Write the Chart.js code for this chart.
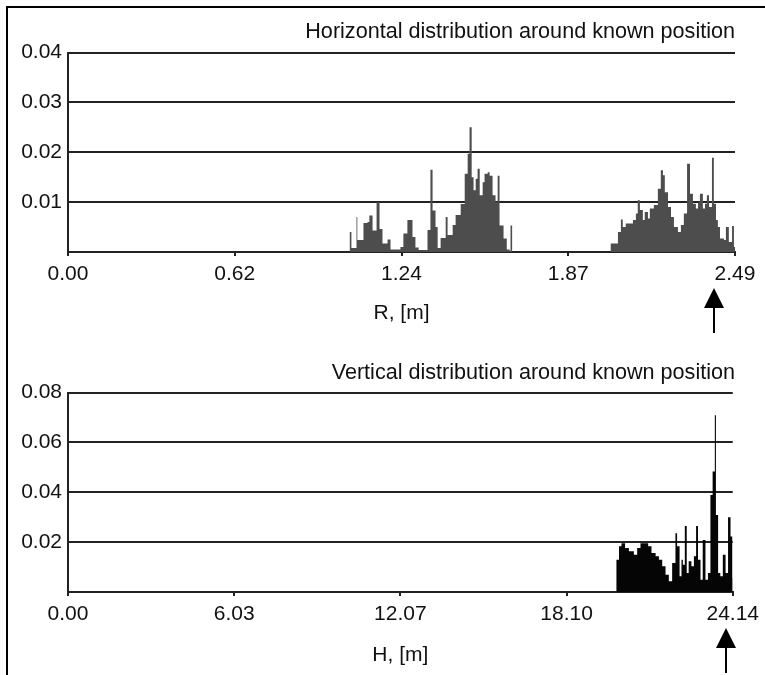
<!DOCTYPE html>
<html>
<head>
<meta charset="utf-8">
<script src="https://cdn.jsdelivr.net/npm/chart.js"></script>
<style>
    html, body { margin: 0; padding: 0; background: #fff; }
    body { width: 765px; height: 675px; position: relative; overflow: hidden; }
    #frame { position: absolute; left: 6px; top: 6px; right: -4px; bottom: -4px; border-left: 2px solid #000; border-top: 2px solid #000; }
    canvas { position: absolute; left: 0; }
    #hChart { top: 0; }
    #vChart { top: 340px; }
</style>
</head>
<body>
<div id="frame"></div>
<canvas id="hChart" width="765" height="340"></canvas>
<canvas id="vChart" width="765" height="335"></canvas>
<script>
// Horizontal distribution (R, m) - bin start and height of each bin
const rTickValues = [0, 0.6225, 1.245, 1.8675, 2.49];
const rTickLabels = ['0.00', '0.62', '1.24', '1.87', '2.49'];
const rYLabels = ['', '0.01', '0.02', '0.03', '0.04'];
const rBinStarts = [
    1.051, 1.058, 1.077, 1.080, 1.103, 1.118, 1.125, 1.137, 1.152, 1.163,
    1.174, 1.193, 1.204, 1.241, 1.252, 1.267, 1.286, 1.297, 1.309, 1.342,
    1.353, 1.361, 1.372, 1.380, 1.391, 1.410, 1.417, 1.436, 1.447, 1.466,
    1.481, 1.492, 1.499, 1.507, 1.514, 1.522, 1.529, 1.537, 1.548, 1.555,
    1.567, 1.574, 1.585, 1.596, 1.604, 1.611, 1.626, 1.638, 1.649, 1.652,
    1.658,
    2.026, 2.053, 2.064, 2.071, 2.082, 2.109, 2.120, 2.127, 2.135, 2.146,
    2.153, 2.165, 2.172, 2.187, 2.202, 2.213, 2.221, 2.228, 2.240, 2.251,
    2.262, 2.277, 2.288, 2.299, 2.311, 2.322, 2.333, 2.344, 2.352, 2.359,
    2.370, 2.378, 2.385, 2.393, 2.404, 2.411, 2.419, 2.426, 2.434, 2.449,
    2.456, 2.467, 2.479, 2.486, 2.490
];
const rHeights = [
    0.004, 0.0008, 0.007, 0.0024, 0.0058, 0.006, 0.0073, 0.0043, 0.010, 0.0046,
    0.0017, 0.0025, 0.0005, 0.001, 0.0037, 0.0064, 0.003, 0.0009, 0.0004, 0.0044,
    0.0165, 0.0083, 0.005, 0.0008, 0.0028, 0.007, 0.0034, 0.0054, 0.0074, 0.0096,
    0.0157, 0.0197, 0.025, 0.015, 0.0124, 0.0147, 0.0167, 0.0114, 0.014, 0.0157,
    0.016, 0.0153, 0.0114, 0.010, 0.0153, 0.0053, 0.0027, 0.0005, 0, 0.0053,
    0,
    0.0017, 0.004, 0.0065, 0.005, 0.0057, 0.0064, 0.0077, 0.0104, 0.0084, 0.0064,
    0.008, 0.0067, 0.0087, 0.0094, 0.0127, 0.0164, 0.0154, 0.012, 0.009, 0.007,
    0.005, 0.004, 0.0054, 0.0077, 0.0177, 0.0117, 0.0097, 0.0087, 0.010, 0.0117,
    0.0087, 0.0097, 0.0114, 0.009, 0.0189, 0.0097, 0.0064, 0.005, 0.0027, 0.0024,
    0.005, 0.002, 0.0052, 0.001, 0
];
const rKnown = 2.41;

// Vertical distribution (H, m)
const hTickValues = [0, 6.035, 12.07, 18.105, 24.14];
const hTickLabels = ['0.00', '6.03', '12.07', '18.10', '24.14'];
const hYLabels = ['', '0.02', '0.04', '0.06', '0.08'];
const hBinStarts = [
    19.91, 20.01, 20.10, 20.23, 20.37, 20.55, 20.67, 20.79, 21.07, 21.19,
    21.34, 21.46, 21.58, 21.70, 21.82, 21.94, 22.06, 22.12, 22.21, 22.28,
    22.33, 22.40, 22.47, 22.54, 22.64, 22.73, 22.81, 22.88, 22.97, 23.05,
    23.15, 23.24, 23.33, 23.41, 23.49, 23.53, 23.61, 23.69, 23.78, 23.88,
    23.97, 24.06, 24.13, 24.14
];
const hHeights = [
    0.0129, 0.0183, 0.0196, 0.0176, 0.0163, 0.0149, 0.0176, 0.0196, 0.0183, 0.0156,
    0.0143, 0.0129, 0.0103, 0.0069, 0.0043, 0.0116, 0.0236, 0.0183, 0.0063, 0.0129,
    0.0109, 0.0265, 0.0076, 0.0123, 0.0103, 0.0143, 0.0265, 0.0129, 0.0049, 0.0209,
    0.0049, 0.0076, 0.0389, 0.0483, 0.0709, 0.0309, 0.0076, 0.0063, 0.0149, 0.0076,
    0.03, 0.0223, 0.0056, 0
];
const hKnown = 23.9;

const FONT = { family: "'Liberation Sans', Arial, sans-serif", size: 21, weight: 'normal' };
const TITLE_FONT = { family: "'Liberation Sans', Arial, sans-serif", size: 21.6, weight: 'normal' };
const TEXT = '#111';
const LINE = '#222';

// arrow under the x axis pointing at the known position
const knownArrow = {
    id: 'knownArrow',
    afterDraw(chart, args, opts) {
        const ctx = chart.ctx;
        const x = Math.round(chart.scales.x.getPixelForValue(opts.value));
        const y0 = chart.chartArea.bottom;
        ctx.save();
        ctx.fillStyle = '#000';
        ctx.beginPath();
        ctx.moveTo(x, y0 + 36);
        ctx.lineTo(x - 10, y0 + 56);
        ctx.lineTo(x + 10, y0 + 56);
        ctx.closePath();
        ctx.fill();
        ctx.fillRect(x - 1, y0 + 56, 2, 25);
        ctx.restore();
    }
};

function makeHistogram(id, cfg) {
    const points = cfg.starts.map((s, i) => ({ x: s, y: cfg.heights[i] }));
    return new Chart(document.getElementById(id), {
        type: 'line',
        data: {
            datasets: [{
                data: points,
                stepped: 'before',
                fill: 'origin',
                backgroundColor: cfg.color,
                borderColor: 'rgba(0,0,0,0)',
                borderWidth: 0,
                pointRadius: 0,
                tension: 0
            }]
        },
        options: {
            responsive: false,
            animation: false,
            events: [],
            layout: { padding: { left: 0, right: 30, top: 0, bottom: 0 } },
            plugins: {
                legend: { display: false },
                tooltip: { enabled: false },
                title: {
                    display: true,
                    text: cfg.title,
                    align: 'end',
                    color: TEXT,
                    font: TITLE_FONT,
                    padding: { top: cfg.titleTop, bottom: cfg.titleBottom }
                },
                knownArrow: { value: cfg.known }
            },
            scales: {
                x: {
                    type: 'linear',
                    min: 0,
                    max: cfg.xMax,
                    z: 1,
                    afterBuildTicks: (s) => { s.ticks = cfg.xTicks.map(v => ({ value: v })); },
                    afterFit: (s) => { s.height = cfg.xHeight; },
                    ticks: {
                        autoSkip: false,
                        maxRotation: 0,
                        padding: 6,
                        color: TEXT,
                        font: FONT,
                        callback: (v, i) => cfg.xLabels[i]
                    },
                    grid: { drawOnChartArea: false, drawTicks: true, tickLength: 4, color: LINE, lineWidth: 2 },
                    border: { color: LINE, width: 2 },
                    title: {
                        display: true,
                        text: cfg.xTitle,
                        color: TEXT,
                        font: FONT,
                        padding: { top: 0, bottom: cfg.xTitleBottom }
                    }
                },
                y: {
                    min: 0,
                    max: cfg.yMax,
                    z: 1,
                    afterFit: (s) => { s.width = 68; },
                    ticks: {
                        stepSize: cfg.yMax / 4,
                        padding: 6,
                        color: TEXT,
                        font: FONT,
                        callback: (v, i) => cfg.yLabels[i]
                    },
                    grid: { drawTicks: false, color: LINE, lineWidth: 2 },
                    border: { color: LINE, width: 2 }
                }
            }
        },
        plugins: [knownArrow]
    });
}

makeHistogram('hChart', {
    starts: rBinStarts, heights: rHeights, color: '#4d4d4d',
    title: 'Horizontal distribution around known position',
    xTitle: 'R, [m]', xMax: 2.49, xTicks: rTickValues, xLabels: rTickLabels,
    yMax: 0.04, yLabels: rYLabels, known: rKnown,
    titleTop: 18.8, titleBottom: 7.8, xHeight: 88, xTitleBottom: 14.4
});

makeHistogram('vChart', {
    starts: hBinStarts, heights: hHeights, color: '#050505',
    title: 'Vertical distribution around known position',
    xTitle: 'H, [m]', xMax: 24.14, xTicks: hTickValues, xLabels: hTickLabels,
    yMax: 0.08, yLabels: hYLabels, known: hKnown,
    titleTop: 20.2, titleBottom: 6.4, xHeight: 83, xTitleBottom: 7.4
});
</script>
</body>
</html>
